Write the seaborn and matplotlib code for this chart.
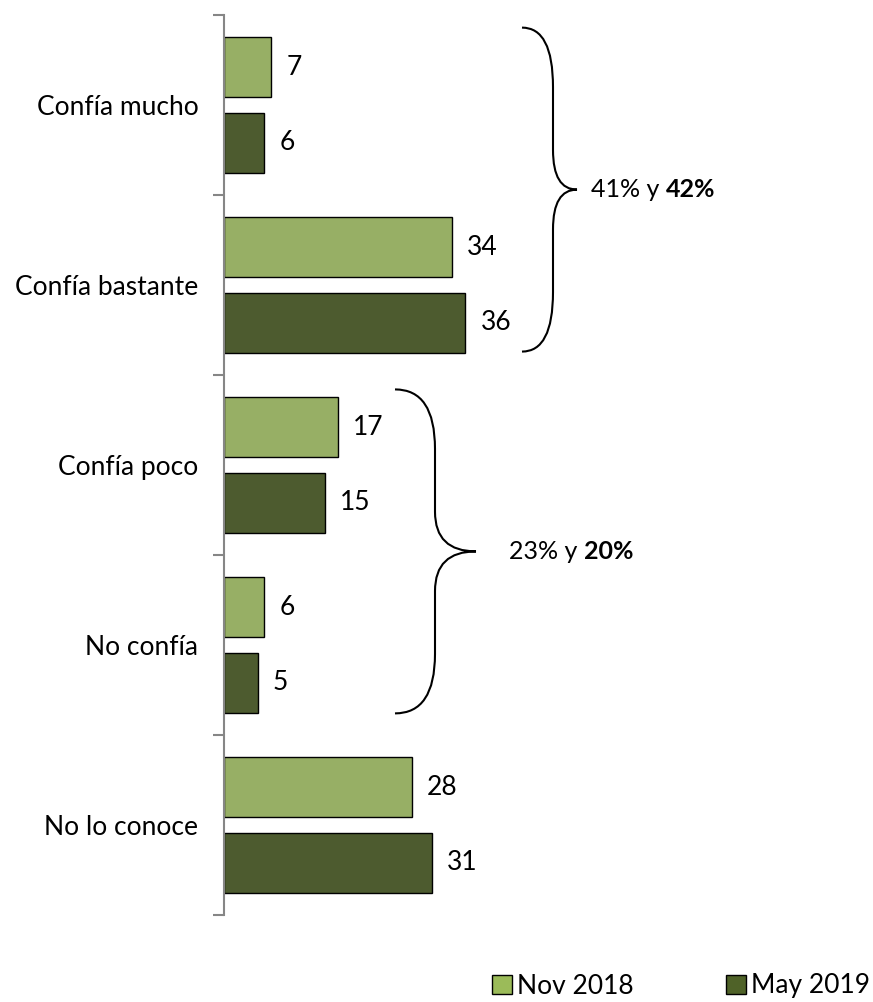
import numpy as np
import pandas as pd
import matplotlib
matplotlib.use('Agg')
import matplotlib.pyplot as plt
from matplotlib.path import Path
from matplotlib.patches import PathPatch, Patch
import seaborn as sns

# datos
categorias = ['Confía mucho', 'Confía bastante', 'Confía poco', 'No confía', 'No lo conoce']
periodos = ['Nov 2018', 'May 2019']
nov_2018 = [7, 34, 17, 6, 28]
may_2019 = [6, 36, 15, 5, 31]
colores = ['#9BBB59', '#4F6228']

# llaves: (categoria inicial, categoria final, texto normal, texto en negrita)
llave_altos = (0, 1, '41% y ', '42%')
llave_bajos = (2, 3, '23% y ', '20%')

sns.set_theme(style='white')
plt.rcParams['font.family'] = ['Lato', 'DejaVu Sans']
plt.rcParams['text.color'] = 'black'

df = pd.DataFrame({
    'categoria': categorias * 2,
    'periodo': [periodos[0]] * len(categorias) + [periodos[1]] * len(categorias),
    'valor': nov_2018 + may_2019,
})

fig = plt.figure(figsize=(8.73, 10.02), dpi=100)
ax = fig.add_axes([224 / 873, 87 / 1002, 600 / 873, 900 / 1002])

sns.barplot(data=df, x='valor', y='categoria', hue='periodo', order=categorias,
            hue_order=periodos, palette=colores, orient='h', width=0.844, gap=0.21,
            edgecolor='black', linewidth=1, legend=False, ax=ax)

for cont in ax.containers:
    ax.bar_label(cont, padding=11, fontsize=19, color='black')

ax.set_xlim(0, 600 / 6.7)
ax.set_ylim(len(categorias) - 0.5, -0.5)
ax.set_xlabel('')
ax.set_ylabel('')
ax.set_xticks([])
for s in ['top', 'right', 'bottom']:
    ax.spines[s].set_visible(False)
ax.spines['left'].set_color('#868686')
ax.spines['left'].set_linewidth(1.5)
ax.tick_params(axis='y', which='major', length=0, pad=18.5, labelsize=19, labelcolor='black')
ax.set_yticks(np.arange(-0.5, len(categorias)), minor=True)
ax.tick_params(axis='y', which='minor', left=True, length=8, width=1.5,
               color='#868686', direction='out')


def dibujar_llave(ax, y0, y1, x0, xv, xt, r_ext, r_mid):
    ym = (y0 + y1) / 2
    verts = [
        (x0, y0), (xv, y0), (xv, y0 + r_ext),
        (xv, ym - r_mid),
        (xv, ym), (xt, ym),
        (xv, ym), (xv, ym + r_mid),
        (xv, y1 - r_ext),
        (xv, y1), (x0, y1),
    ]
    codes = [Path.MOVETO, Path.CURVE3, Path.CURVE3, Path.LINETO,
             Path.CURVE3, Path.CURVE3, Path.CURVE3, Path.CURVE3,
             Path.LINETO, Path.CURVE3, Path.CURVE3]
    ax.add_patch(PathPatch(Path(verts, codes), fill=False, lw=1.5, color='black',
                           clip_on=False))
    return ym


def etiqueta_llave(ax, x, y, normal, negrita):
    t1 = ax.text(x, y, normal, fontsize=18, va='center', ha='left', color='black')
    ax.annotate(negrita, xy=(1, 0.5), xycoords=t1, va='center', ha='left',
                fontsize=18, fontweight='bold', color='black')


px = 6.7  # pixeles por unidad
ym = dibujar_llave(ax, -0.43, 1.37, (522 - 224) / px, (553 - 224) / px, (577 - 224) / px, 0.33, 0.22)
etiqueta_llave(ax, (591 - 224) / px, ym, llave_altos[2], llave_altos[3])
ym = dibujar_llave(ax, 1.58, 3.38, (395 - 224) / px, (435 - 224) / px, (476 - 224) / px, 0.33, 0.22)
etiqueta_llave(ax, (509 - 224) / px, ym, llave_bajos[2], llave_bajos[3])

handles = [Patch(facecolor=c, edgecolor='black', linewidth=1) for c in colores]
fig.legend(handles, periodos, loc='center right', bbox_to_anchor=(870 / 873, 16 / 1002),
           ncol=2, frameon=False, fontsize=19, handlelength=0.75, handleheight=0.75,
           handletextpad=0.2, columnspacing=3.5, borderaxespad=0, borderpad=0)

fig.savefig('out.png', dpi=100)
